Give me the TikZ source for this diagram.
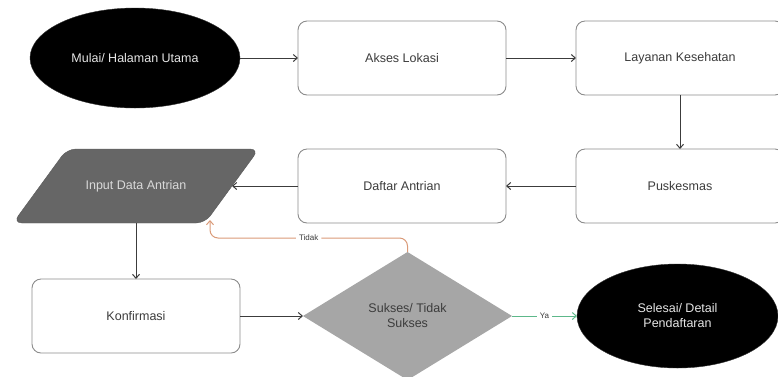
\documentclass[tikz,border=0pt]{standalone}
\usepackage{fontspec}
\setmainfont{Liberation Sans}
\usetikzlibrary{%
    positioning,
    shapes.geometric,
    arrows.meta,
    backgrounds
}
\definecolor{garis}{HTML}{8C8C8C}
\definecolor{teks}{HTML}{3C3C3C}
\definecolor{tidakc}{HTML}{DA9A78}
\definecolor{yac}{HTML}{5DB88A}
\tikzset{
    every node/.style = {
        font=\fontsize{12.5}{15}\selectfont,
        outer sep=0pt,
    },
    kotak/.style = {
        rectangle, rounded corners=9pt,
        draw=garis, line width=0.9pt,
        fill=white, text=teks,
        minimum width = 208pt,
        minimum height = 74pt
    },
    ujung/.style = {
        ellipse, fill=black, draw=black!80,
        text=white!90!black, align=center
    },
    panah/.style = {
        draw=teks, line width=1pt,
        -{Straight Barb[length=4pt, width=7pt]}
    },
    label/.style = {
        fill=white, text=teks, inner sep=3pt,
        font=\fontsize{8}{9}\selectfont
    }
}

\begin{document}
\begin{tikzpicture}[x=1pt, y=-1pt]
    \useasboundingbox (0, 0) rectangle (778, 376);
    \node[
        ujung,
        minimum width = 210pt,
        minimum height = 100pt
    ] (mulai) at (135, 58) {Mulai/ Halaman Utama};
    \node[
        kotak,
        right=58pt of mulai
    ] (akses) {Akses Lokasi};
    \node[
        kotak,
        right=70pt of akses
    ] (layanan) {Layanan Kesehatan};
    \node[
        kotak,
        below=54pt of layanan
    ] (puskesmas) {Puskesmas};
    \node[
        kotak,
        left=70pt of puskesmas
    ] (daftar) {Daftar Antrian};
    \node[
        rectangle,
        text=white!85!black,
        minimum width = 192pt,
        minimum height = 74pt,
        left=66pt of daftar
    ] (input) {Input Data Antrian};
    % jajaran genjang di belakang teks
    \begin{scope}[on background layer]
        \filldraw[fill=black!60, draw=black!65, rounded corners=9pt]
            ([xshift=-27pt]input.south west) --
            ([xshift=-27pt]input.south east) --
            ([xshift=27pt]input.north east) --
            ([xshift=27pt]input.north west) -- cycle;
    \end{scope}
    \node[
        kotak,
        below=56pt of input
    ] (konfirmasi) {Konfirmasi};
    \node[
        diamond,
        fill=black!35, text=teks,
        align=center,
        minimum width = 209pt,
        minimum height = 128pt,
        right=63pt of konfirmasi
    ] (cek) {Sukses/ Tidak\\Sukses};
    \node[
        ujung,
        minimum width = 201pt,
        minimum height = 104pt,
        right=65pt of cek
    ] (selesai) {Selesai/ Detail\\Pendaftaran};

    \draw[panah] (mulai) -- (akses);
    \draw[panah] (akses) -- (layanan);
    \draw[panah] (layanan) -- (puskesmas);
    \draw[panah] (puskesmas) -- (daftar);
    \draw[panah] (daftar) -- (input);
    \draw[panah] (input) -- (konfirmasi);
    \draw[panah] (konfirmasi) -- (cek);
    \draw[panah, draw=tidakc, rounded corners=8pt]
        (cek.north) -- ++(0, -14)
        -| node[label, pos=0.25] {Tidak} ([xshift=-22pt, yshift=3pt]input.south east);
    \draw[panah, draw=yac]
        (cek.east) -- node[label] {Ya} (selesai.west);
\end{tikzpicture}
\end{document}
